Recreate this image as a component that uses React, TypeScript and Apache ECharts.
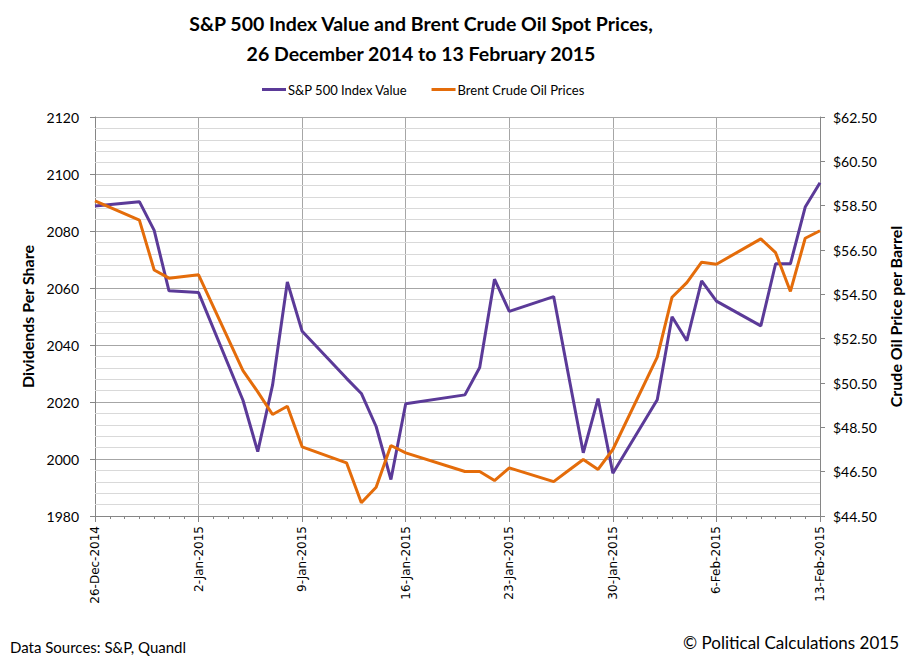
import React, { useEffect, useRef } from 'react';
import * as echarts from 'echarts';

// trading days shown on the chart
const tradingDates = [
    '2014-12-26', '2014-12-29', '2014-12-30', '2014-12-31', '2015-01-02',
    '2015-01-05', '2015-01-06', '2015-01-07', '2015-01-08', '2015-01-09',
    '2015-01-12', '2015-01-13', '2015-01-14', '2015-01-15', '2015-01-16',
    '2015-01-20', '2015-01-21', '2015-01-22', '2015-01-23', '2015-01-26',
    '2015-01-27', '2015-01-28', '2015-01-29', '2015-01-30', '2015-02-02',
    '2015-02-03', '2015-02-04', '2015-02-05', '2015-02-06', '2015-02-09',
    '2015-02-10', '2015-02-11', '2015-02-12', '2015-02-13',
];

const spIndexValues = [
    2088.8, 2090.3, 2080.2, 2059.0, 2058.4,
    2020.6, 2002.6, 2025.9, 2062.1, 2044.8,
    2028.3, 2023.0, 2011.4, 1992.8, 2019.4,
    2022.5, 2032.1, 2063.1, 2051.8, 2057.0,
    2029.5, 2002.2, 2021.2, 1995.0, 2020.8,
    2049.9, 2041.5, 2062.5, 2055.4, 2046.7,
    2068.5, 2068.5, 2088.4, 2096.9,
];

const brentPrices = [
    58.72, 57.85, 55.60, 55.23, 55.38,
    51.06, 50.10, 49.08, 49.45, 47.62,
    46.90, 45.10, 45.80, 47.68, 47.35,
    46.51, 46.51, 46.10, 46.67, 46.05,
    46.55, 47.05, 46.60, 47.50, 51.67,
    54.37, 55.03, 55.95, 55.86, 57.00,
    56.38, 54.63, 57.03, 57.37,
];

const dateTickLabels = [
    '26-Dec-2014', '2-Jan-2015', '9-Jan-2015', '16-Jan-2015',
    '23-Jan-2015', '30-Jan-2015', '6-Feb-2015', '13-Feb-2015',
];

const priceTicks = [44.5, 46.5, 48.5, 50.5, 52.5, 54.5, 56.5, 58.5, 60.5, 62.5];

const startDay = Date.UTC(2014, 11, 26);
const dayOffset = (d: string) => {
    const [y, m, dd] = d.split('-').map(Number);
    return Math.round((Date.UTC(y, m - 1, dd) - startDay) / 86400000);
};

// light minor grid every 4 points between the major lines
const minorGridValues: number[] = [];
for (let v = 1984; v < 2120; v += 4) {
    if (v % 20 !== 0) minorGridValues.push(v);
}

const axisGray = '#868686';

const App: React.FC = () => {
    const chartRef = useRef<HTMLDivElement | null>(null);

    useEffect(() => {
        if (!chartRef.current) return;
        const myChart = echarts.init(chartRef.current, null, { renderer: 'svg' });

        const option = {
            animation: false,
            textStyle: { fontFamily: 'Lato', color: '#000' },
            title: {
                text: 'S&P 500 Index Value and Brent Crude Oil Spot Prices,\n26 December 2014 to 13 February 2015',
                left: 416,
                top: 3,
                textAlign: 'center',
                textStyle: { fontFamily: 'Lato', fontSize: 19.5, fontWeight: 'bold', lineHeight: 30, color: '#000' },
            },
            legend: {
                data: ['S&P 500 Index Value', 'Brent Crude Oil Prices'],
                left: 262,
                top: 83,
                padding: 0,
                icon: 'rect',
                itemWidth: 24,
                itemHeight: 3,
                itemGap: 24,
                textStyle: { fontFamily: 'Lato', fontSize: 13, color: '#000', padding: [0, 0, 0, -3] },
            },
            grid: { left: 95, right: 92, top: 117, bottom: 146 },
            xAxis: {
                type: 'value',
                min: 0,
                max: 49,
                interval: 7,
                axisLine: { show: true, onZero: false, lineStyle: { color: axisGray } },
                axisTick: { show: true, length: 6, lineStyle: { color: axisGray } },
                minorTick: { show: true, splitNumber: 7, length: 3, lineStyle: { color: axisGray } },
                splitLine: { show: true, lineStyle: { color: '#a6a6a6' } },
                axisLabel: {
                    rotate: 90,
                    margin: 10,
                    fontFamily: 'DejaVu Sans',
                    fontSize: 12,
                    color: '#000',
                    formatter: (v: number) => dateTickLabels[Math.round(v / 7)] ?? '',
                },
            },
            yAxis: [
                {
                    type: 'value',
                    position: 'left',
                    min: 1980,
                    max: 2120,
                    interval: 20,
                    name: 'Dividends Per Share',
                    nameLocation: 'middle',
                    nameRotate: 90,
                    nameGap: 48,
                    nameTextStyle: { fontFamily: 'Lato', fontSize: 16, fontWeight: 'bold', color: '#000' },
                    axisLine: { show: true, lineStyle: { color: axisGray } },
                    axisTick: { show: true, length: 5, lineStyle: { color: axisGray } },
                    splitLine: { show: true, lineStyle: { color: '#a6a6a6' } },
                    axisLabel: {
                        fontFamily: 'Lato',
                        fontSize: 14,
                        color: '#000',
                        margin: 16,
                        formatter: (v: number) => String(v),
                    },
                },
                {
                    type: 'value',
                    position: 'right',
                    min: 44.5,
                    max: 62.5,
                    name: 'Crude Oil Price per Barrel',
                    nameLocation: 'middle',
                    nameRotate: 90,
                    nameGap: 66,
                    nameTextStyle: { fontFamily: 'Lato', fontSize: 16, fontWeight: 'bold', color: '#000' },
                    axisLine: { show: true, lineStyle: { color: axisGray } },
                    axisTick: { show: true, length: 5, customValues: priceTicks, lineStyle: { color: axisGray } },
                    splitLine: { show: false },
                    axisLabel: {
                        customValues: priceTicks,
                        fontFamily: 'Lato',
                        fontSize: 14,
                        color: '#000',
                        margin: 13,
                        formatter: (v: number) => '$' + v.toFixed(2),
                    },
                },
            ],
            series: [
                {
                    name: 'minor grid',
                    type: 'line',
                    yAxisIndex: 0,
                    data: [],
                    silent: true,
                    markLine: {
                        silent: true,
                        symbol: 'none',
                        label: { show: false },
                        emphasis: { disabled: true },
                        lineStyle: { color: '#d9d9d9', type: 'solid', width: 1 },
                        data: minorGridValues.map((v) => ({ yAxis: v })),
                    },
                },
                {
                    name: 'S&P 500 Index Value',
                    type: 'line',
                    yAxisIndex: 0,
                    showSymbol: false,
                    z: 10,
                    color: '#5B3A98',
                    lineStyle: { width: 3, color: '#5B3A98' },
                    data: tradingDates.map((d, i) => [dayOffset(d), spIndexValues[i]]),
                },
                {
                    name: 'Brent Crude Oil Prices',
                    type: 'line',
                    yAxisIndex: 1,
                    showSymbol: false,
                    z: 10,
                    color: '#E46C0A',
                    lineStyle: { width: 3, color: '#E46C0A' },
                    data: tradingDates.map((d, i) => [dayOffset(d), brentPrices[i]]),
                },
            ],
            graphic: [
                {
                    type: 'text',
                    left: 10,
                    top: 639,
                    style: { text: 'Data Sources: S&P, Quandl', font: '15px Lato', fill: '#000' },
                },
                {
                    type: 'text',
                    right: 13,
                    top: 634,
                    style: { text: '© Political Calculations 2015', font: '17px Lato', fill: '#000' },
                },
            ],
        };

        myChart.setOption(option as any);

        return () => {
            myChart.dispose();
        };
    }, []);

    return (
        <div
            ref={chartRef}
            style={{ position: 'absolute', left: 0, top: 0, width: 912, height: 662, background: '#fff' }}
        />
    );
};

export default App;
